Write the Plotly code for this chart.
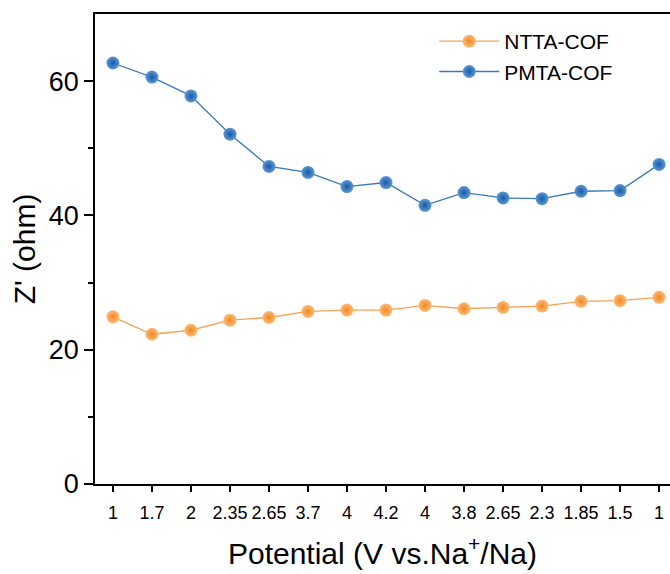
import plotly.graph_objects as go

x_labels = ["1", "1.7", "2", "2.35", "2.65", "3.7", "4", "4.2", "4", "3.8", "2.65", "2.3", "1.85", "1.5", "1"]
ntta = [24.9, 22.3, 22.9, 24.4, 24.8, 25.7, 25.9, 25.9, 26.6, 26.1, 26.3, 26.5, 27.2, 27.3, 27.8]
pmta = [62.7, 60.6, 57.8, 52.1, 47.3, 46.4, 44.3, 44.9, 41.5, 43.4, 42.6, 42.5, 43.6, 43.7, 47.6]
x_idx = list(range(len(x_labels)))

FONT = "Liberation Sans, Arial, sans-serif"

fig = go.Figure()
fig.add_trace(go.Scatter(
    x=x_idx, y=ntta, mode="lines+markers", name="NTTA-COF",
    line=dict(color="#f5a259", width=1.3),
    marker=dict(size=13, color="#ffb875", gradient=dict(type="radial", color="#ee8a22"),
                line=dict(width=0)),
))
fig.add_trace(go.Scatter(
    x=x_idx, y=pmta, mode="lines+markers", name="PMTA-COF",
    line=dict(color="#3a78b8", width=1.3),
    marker=dict(size=13, color="#5a98d6", gradient=dict(type="radial", color="#1a5aa3"),
                line=dict(width=0)),
))

fig.update_layout(
    width=670, height=574,
    margin=dict(l=95, r=0, t=14, b=90),
    paper_bgcolor="white", plot_bgcolor="white",
    font=dict(family=FONT, color="black"),
    showlegend=True,
    legend=dict(x=0.59, y=0.985, xanchor="left", yanchor="top",
                font=dict(size=21, family=FONT), bgcolor="rgba(0,0,0,0)",
                itemwidth=60, tracegroupgap=0),
)
fig.update_xaxes(
    range=[-0.46, 14.28],
    tickmode="array", tickvals=x_idx, ticktext=x_labels,
    ticks="outside", ticklen=6, tickwidth=1.5, tickcolor="black",
    tickfont=dict(size=18, family=FONT), ticklabelstandoff=5,
    showline=True, linecolor="black", linewidth=1.8, mirror=True,
    showgrid=False, zeroline=False,
    title=dict(text="Potential (V vs.Na<sup>+</sup>/Na)", font=dict(size=30, family=FONT), standoff=21),
)
fig.update_yaxes(
    range=[0, 70],
    tickvals=[0, 20, 40, 60],
    ticks="outside", ticklen=9, tickwidth=1.5, tickcolor="black",
    tickfont=dict(size=27, family=FONT),
    minor=dict(tickvals=[10, 30, 50], ticks="outside", ticklen=5, tickwidth=1.5, tickcolor="black"),
    showline=True, linecolor="black", linewidth=1.8, mirror=False,
    showgrid=False, zeroline=False,
    title=dict(text="Z' (ohm)", font=dict(size=30, family=FONT), standoff=4),
)

fig.write_html("out.html")
